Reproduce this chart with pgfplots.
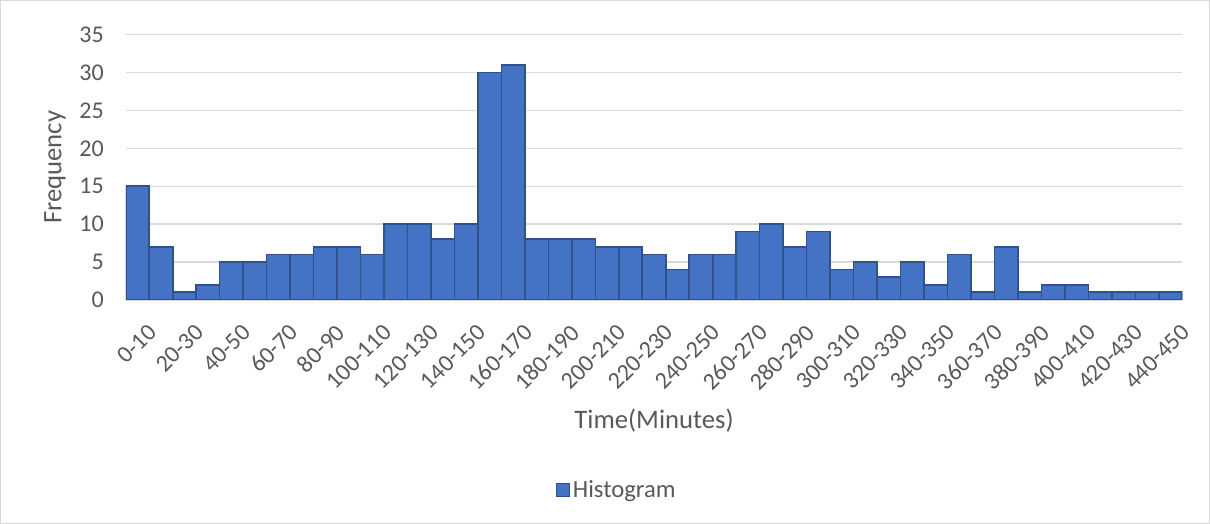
\documentclass[border=0pt]{standalone}
\usepackage{pgfplots}
\pgfplotsset{compat=1.18}
\usepackage{fontspec}
\setmainfont{Carlito}
\definecolor{barfill}{HTML}{4472C4}
\definecolor{baredge}{HTML}{2F528F}
\definecolor{txt}{HTML}{595959}
\definecolor{gridc}{HTML}{D9D9D9}
\begin{document}
\begin{tikzpicture}
% outer chart frame, 1210 x 524 px at 0.75pt per px
\draw[gridc] (0.4pt,0.4pt) rectangle (907.1pt,392.6pt);
\begin{axis}[
    at={(94.5pt,168pt)}, anchor=south west,
    scale only axis,
    width=792pt, height=198.75pt,
    xmin=-0.5, xmax=44.5,
    ymin=0, ymax=35,
    ytick={0,5,...,35},
    xtick={0,2,...,44},
    xticklabels={0-10,20-30,40-50,60-70,80-90,100-110,120-130,140-150,160-170,180-190,200-210,220-230,240-250,260-270,280-290,300-310,320-330,340-350,360-370,380-390,400-410,420-430,440-450},
    tick label style={font=\fontsize{18}{20}\selectfont, text=txt},
    x tick label style={rotate=45, anchor=north east, inner sep=0pt, xshift=-7pt, yshift=-17pt},
    y tick label style={xshift=-13pt},
    /pgf/number format/assume math mode=true,
    major tick length=0pt,
    axis x line*=bottom, axis y line*=left,
    x axis line style={gridc, line width=1pt, -},
    y axis line style={draw=none},
    ymajorgrids=true,
    grid style={gridc, line width=1pt},
    xlabel={Time(Minutes)},
    ylabel={Frequency},
    label style={font=\fontsize{20}{22}\selectfont, text=txt},
    xlabel style={at={(rel axis cs:0.5,-0.456)}, anchor=center},
    ylabel style={at={(rel axis cs:-0.067,0.5)}, anchor=center},
    legend style={at={(rel axis cs:0.465,-0.717)}, anchor=center, draw=none,
        font=\fontsize{18.5}{21}\selectfont, text=txt},
    legend image code/.code={\draw[fill=barfill, draw=baredge, line width=0.8pt] (0pt,-5pt) rectangle (10pt,5pt);},
]
\addplot[ybar, bar width=17.6pt, bar shift=0pt, fill=barfill, draw=baredge, line width=1.2pt]
coordinates {
(0,15) (1,7) (2,1) (3,2) (4,5) (5,5) (6,6) (7,6) (8,7) (9,7)
(10,6) (11,10) (12,10) (13,8) (14,10) (15,30) (16,31) (17,8) (18,8) (19,8)
(20,7) (21,7) (22,6) (23,4) (24,6) (25,6) (26,9) (27,10) (28,7) (29,9)
(30,4) (31,5) (32,3) (33,5) (34,2) (35,6) (36,1) (37,7) (38,1) (39,2)
(40,2) (41,1) (42,1) (43,1) (44,1)
};
\addlegendentry{Histogram}
\end{axis}
\end{tikzpicture}
\end{document}
